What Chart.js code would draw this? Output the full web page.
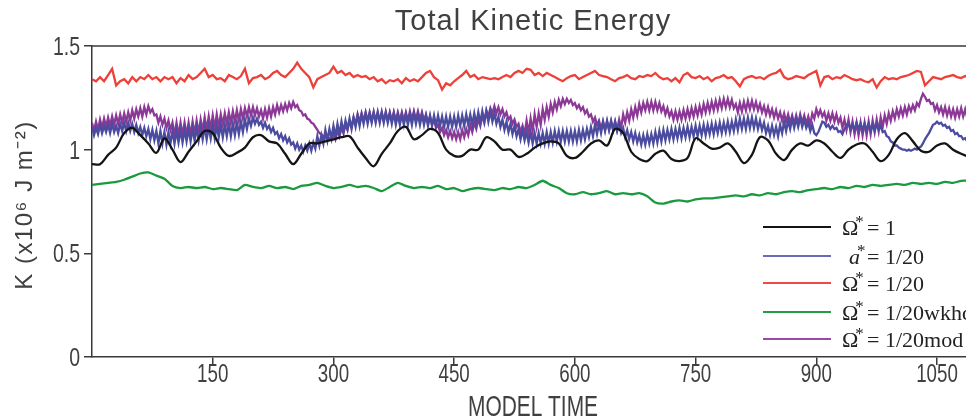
<!DOCTYPE html>
<html>
<head>
<meta charset="utf-8">
<script src="https://cdn.jsdelivr.net/npm/chart.js@4"></script>
<style>
  html, body { margin: 0; padding: 0; background: #fff; }
  #wrap { width: 966px; height: 419px; }
</style>
</head>
<body>
<div id="wrap"><canvas id="keChart" width="966" height="419"></canvas></div>
<script>
// Model time spacing of the sampled runs
const OSC_STEP = 2.5;   // runs with the fast oscillation (a*, mod)
const FINE_STEP = 5;    // noisy run
const COARSE_STEP = 10; // smooth runs

const xTicks = [150, 300, 450, 600, 750, 900, 1050];
const yTicks = [0, 0.5, 1, 1.5];

// K (x10^6 J m^-2), Omega* = 1, every 10 time units
const omega1 = [
  0.93, 0.93, 0.975, 1.01, 1.08, 1.105, 1.07, 1.03, 0.985, 1.055,
  1.0, 0.94, 0.99, 1.04, 1.09, 1.08, 1.01, 0.97, 0.985, 1.01,
  1.06, 1.07, 1.04, 1.03, 0.98, 0.93, 0.98, 1.03, 1.03, 1.04,
  1.05, 1.06, 1.065, 1.01, 0.96, 0.92, 0.98, 1.03, 1.09, 1.11,
  1.05, 1.07, 1.10, 1.08, 1.0, 0.97, 0.97, 1.0, 1.0, 1.06,
  1.04, 1.0, 1.0, 0.965, 0.98, 1.01, 1.03, 1.04, 1.03, 0.97,
  0.96, 0.99, 1.03, 1.045, 1.02, 1.1, 1.08, 0.99, 0.955, 0.945,
  0.98, 0.995, 0.955, 0.945, 0.96, 1.055, 1.03, 1.005, 1.01, 1.03,
  0.99, 0.935, 0.975, 1.06, 1.045, 0.98, 0.95, 1.0, 1.03, 1.02,
  1.045, 1.03, 0.99, 0.96, 1.0, 1.025, 1.03, 0.99, 0.945, 0.975,
  1.05, 1.08, 1.04, 0.995, 0.99, 1.02, 1.03, 1.0, 0.98, 0.965
];

// a* = 1/20, every 2.5 time units (one row = 100 time units)
const a20 = [
  1.11, 1.07, 1.105, 1.075, 1.12, 1.08, 1.115, 1.085, 1.12, 1.08, 1.125, 1.085, 1.115, 1.08, 1.125, 1.09, 1.13, 1.09, 1.13, 1.09,
  1.125, 1.085, 1.12, 1.08, 1.11, 1.07, 1.105, 1.065, 1.10, 1.05, 1.095, 1.045, 1.09, 1.03, 1.09, 1.03, 1.085, 1.025, 1.085, 1.03,
  1.09, 1.03, 1.09, 1.035, 1.095, 1.035, 1.095, 1.04, 1.10, 1.04, 1.10, 1.045, 1.105, 1.045, 1.105, 1.05, 1.11, 1.05, 1.11, 1.055,
  1.115, 1.055, 1.115, 1.06, 1.12, 1.06, 1.12, 1.065, 1.125, 1.065, 1.125, 1.07, 1.13, 1.075, 1.135, 1.085, 1.145, 1.10, 1.15, 1.115,
  1.155, 1.125, 1.15, 1.12, 1.135, 1.105, 1.13, 1.10, 1.115, 1.085, 1.105, 1.075, 1.085, 1.055, 1.075, 1.045, 1.065, 1.035, 1.055, 1.025,
  1.035, 1.005, 1.03, 1.0, 1.02, 0.99, 1.02, 0.995, 1.03, 0.995, 1.035, 1.005, 1.065, 1.02, 1.07, 1.03, 1.095, 1.045, 1.10, 1.055,
  1.115, 1.065, 1.125, 1.075, 1.135, 1.085, 1.14, 1.10, 1.15, 1.10, 1.155, 1.11, 1.165, 1.115, 1.17, 1.125, 1.175, 1.125, 1.175, 1.13,
  1.18, 1.13, 1.18, 1.13, 1.18, 1.13, 1.18, 1.13, 1.175, 1.125, 1.175, 1.12, 1.17, 1.12, 1.17, 1.12, 1.17, 1.12, 1.17, 1.12,
  1.175, 1.125, 1.17, 1.12, 1.17, 1.12, 1.165, 1.115, 1.165, 1.115, 1.165, 1.115, 1.165, 1.115, 1.16, 1.11, 1.16, 1.11, 1.16, 1.11,
  1.16, 1.11, 1.165, 1.115, 1.165, 1.115, 1.17, 1.12, 1.17, 1.12, 1.175, 1.125, 1.18, 1.13, 1.185, 1.135, 1.185, 1.135, 1.185, 1.135,
  1.175, 1.125, 1.16, 1.11, 1.145, 1.095, 1.135, 1.085, 1.125, 1.075, 1.115, 1.065, 1.10, 1.05, 1.095, 1.045, 1.085, 1.035, 1.085, 1.03,
  1.08, 1.03, 1.08, 1.03, 1.08, 1.03, 1.085, 1.03, 1.085, 1.035, 1.09, 1.04, 1.09, 1.04, 1.09, 1.04, 1.09, 1.04, 1.09, 1.04,
  1.09, 1.04, 1.095, 1.045, 1.095, 1.05, 1.10, 1.06, 1.11, 1.065, 1.12, 1.075, 1.125, 1.08, 1.135, 1.09, 1.14, 1.095, 1.14, 1.095,
  1.135, 1.09, 1.125, 1.08, 1.105, 1.06, 1.095, 1.05, 1.085, 1.04, 1.08, 1.035, 1.07, 1.025, 1.07, 1.025, 1.075, 1.03, 1.075, 1.03,
  1.085, 1.035, 1.09, 1.04, 1.095, 1.045, 1.095, 1.05, 1.10, 1.05, 1.10, 1.055, 1.105, 1.055, 1.105, 1.06, 1.11, 1.06, 1.11, 1.065,
  1.115, 1.065, 1.115, 1.07, 1.12, 1.07, 1.12, 1.075, 1.125, 1.075, 1.125, 1.08, 1.13, 1.08, 1.13, 1.085, 1.135, 1.085, 1.135, 1.09,
  1.145, 1.095, 1.15, 1.10, 1.15, 1.10, 1.155, 1.105, 1.155, 1.105, 1.15, 1.10, 1.14, 1.095, 1.13, 1.08, 1.115, 1.07, 1.115, 1.07,
  1.11, 1.065, 1.12, 1.08, 1.135, 1.09, 1.14, 1.10, 1.15, 1.105, 1.15, 1.11, 1.155, 1.11, 1.145, 1.105, 1.13, 1.09, 1.12, 1.08,
  1.07, 1.085, 1.11, 1.135, 1.13, 1.11, 1.12, 1.10, 1.115, 1.10, 1.105, 1.085, 1.09, 1.075, 1.10, 1.115, 1.125, 1.10, 1.12, 1.095,
  1.13, 1.10, 1.125, 1.095, 1.125, 1.095, 1.125, 1.09, 1.12, 1.09, 1.125, 1.095, 1.115, 1.085, 1.09, 1.065, 1.06, 1.04, 1.035, 1.02,
  1.02, 1.01, 1.005, 1.0, 1.0, 0.995, 1.0, 0.995, 1.0, 1.005, 1.0, 1.01, 1.015, 1.03, 1.05, 1.065, 1.08, 1.10, 1.12, 1.125,
  1.135, 1.125, 1.13, 1.115, 1.12, 1.105, 1.11, 1.09, 1.095, 1.075, 1.08, 1.065, 1.065, 1.05, 1.055, 1.04, 1.045
];

// Omega* = 1/20, every 5 time units
const omega20 = [
  1.34, 1.33, 1.35, 1.33, 1.36, 1.39, 1.31, 1.33, 1.34, 1.32, 1.35, 1.33, 1.35, 1.34, 1.36, 1.34, 1.35, 1.33, 1.35, 1.34,
  1.35, 1.32, 1.345, 1.33, 1.36, 1.34, 1.35, 1.37, 1.39, 1.35, 1.36, 1.34, 1.345, 1.33, 1.36, 1.35, 1.34, 1.355, 1.39, 1.32,
  1.345, 1.35, 1.36, 1.34, 1.35, 1.37, 1.38, 1.36, 1.35, 1.37, 1.39, 1.42, 1.39, 1.37, 1.35, 1.30, 1.34, 1.35, 1.36, 1.37,
  1.40, 1.37, 1.38, 1.36, 1.37, 1.35, 1.36, 1.35, 1.355, 1.34, 1.35, 1.33, 1.34, 1.32, 1.335, 1.33, 1.34, 1.32, 1.345, 1.33,
  1.34, 1.33, 1.35, 1.37, 1.38, 1.35, 1.335, 1.29, 1.32, 1.31, 1.33, 1.345, 1.36, 1.38, 1.35, 1.36, 1.34, 1.35, 1.345, 1.34,
  1.345, 1.34, 1.35, 1.36, 1.35, 1.37, 1.38, 1.37, 1.39, 1.385, 1.36, 1.37, 1.355, 1.37, 1.36, 1.35, 1.34, 1.33, 1.345, 1.355,
  1.36, 1.34, 1.35, 1.36, 1.37, 1.38, 1.36, 1.355, 1.35, 1.34, 1.33, 1.345, 1.35, 1.36, 1.345, 1.34, 1.355, 1.35, 1.36, 1.355,
  1.37, 1.35, 1.34, 1.345, 1.33, 1.345, 1.325, 1.36, 1.37, 1.35, 1.345, 1.355, 1.34, 1.35, 1.33, 1.345, 1.35, 1.36, 1.345, 1.35,
  1.33, 1.305, 1.34, 1.35, 1.355, 1.345, 1.35, 1.34, 1.355, 1.365, 1.37, 1.385, 1.35, 1.34, 1.345, 1.355, 1.35, 1.345, 1.36, 1.37,
  1.38, 1.31, 1.35, 1.355, 1.34, 1.35, 1.345, 1.36, 1.35, 1.34, 1.335, 1.34, 1.33, 1.325, 1.34, 1.30, 1.33, 1.35, 1.34, 1.345,
  1.34, 1.35, 1.355, 1.36, 1.37, 1.38, 1.375, 1.31, 1.33, 1.35, 1.345, 1.34, 1.35, 1.355, 1.36, 1.35, 1.345, 1.355, 1.35
];

// Omega* = 1/20wkhd, every 10 time units
const omega20wkhd = [
  0.83, 0.835, 0.84, 0.845, 0.855, 0.87, 0.885, 0.89, 0.875, 0.86,
  0.825, 0.815, 0.82, 0.815, 0.82, 0.81, 0.815, 0.81, 0.805, 0.83,
  0.82, 0.815, 0.825, 0.815, 0.82, 0.81, 0.825, 0.83, 0.84, 0.825,
  0.815, 0.82, 0.83, 0.82, 0.825, 0.815, 0.80, 0.82, 0.84, 0.825,
  0.815, 0.82, 0.815, 0.825, 0.81, 0.815, 0.80, 0.81, 0.815, 0.81,
  0.805, 0.815, 0.81, 0.82, 0.815, 0.83, 0.85, 0.83, 0.815, 0.79,
  0.785, 0.795, 0.785, 0.79, 0.80, 0.785, 0.79, 0.785, 0.79, 0.775,
  0.745, 0.74, 0.75, 0.755, 0.75, 0.76, 0.765, 0.765, 0.77, 0.775,
  0.78, 0.775, 0.785, 0.78, 0.79, 0.785, 0.795, 0.80, 0.795, 0.805,
  0.81, 0.815, 0.81, 0.82, 0.815, 0.825, 0.82, 0.83, 0.825, 0.83,
  0.835, 0.83, 0.84, 0.835, 0.84, 0.835, 0.845, 0.84, 0.85, 0.85
];

// Omega* = 1/20mod, every 2.5 time units (one row = 100 time units)
const omega20mod = [
  1.13, 1.09, 1.135, 1.095, 1.145, 1.105, 1.15, 1.11, 1.155, 1.115, 1.16, 1.12, 1.165, 1.125, 1.17, 1.13, 1.175, 1.135, 1.18, 1.14,
  1.19, 1.15, 1.195, 1.16, 1.20, 1.16, 1.205, 1.17, 1.21, 1.18, 1.195, 1.165, 1.17, 1.13, 1.16, 1.12, 1.15, 1.105, 1.14, 1.095,
  1.13, 1.07, 1.13, 1.07, 1.13, 1.07, 1.13, 1.07, 1.13, 1.07, 1.135, 1.075, 1.14, 1.08, 1.145, 1.09, 1.155, 1.095, 1.16, 1.10,
  1.165, 1.105, 1.17, 1.11, 1.17, 1.12, 1.175, 1.125, 1.18, 1.13, 1.185, 1.135, 1.19, 1.14, 1.195, 1.15, 1.20, 1.16, 1.205, 1.165,
  1.205, 1.165, 1.20, 1.16, 1.19, 1.15, 1.195, 1.155, 1.20, 1.16, 1.205, 1.17, 1.215, 1.18, 1.215, 1.185, 1.22, 1.19, 1.225, 1.20,
  1.23, 1.205, 1.215, 1.19, 1.185, 1.165, 1.17, 1.15, 1.145, 1.13, 1.125, 1.11, 1.095, 1.08, 1.075, 1.065, 1.06, 1.045, 1.055, 1.045,
  1.075, 1.05, 1.09, 1.065, 1.105, 1.08, 1.12, 1.095, 1.14, 1.11, 1.155, 1.125, 1.17, 1.135, 1.175, 1.14, 1.18, 1.14, 1.18, 1.14,
  1.18, 1.14, 1.18, 1.14, 1.18, 1.14, 1.18, 1.14, 1.18, 1.14, 1.18, 1.14, 1.18, 1.14, 1.18, 1.14, 1.18, 1.14, 1.185, 1.145,
  1.185, 1.145, 1.185, 1.145, 1.18, 1.14, 1.17, 1.13, 1.16, 1.12, 1.145, 1.105, 1.12, 1.085, 1.105, 1.07, 1.095, 1.06, 1.09, 1.055,
  1.085, 1.05, 1.085, 1.05, 1.095, 1.06, 1.10, 1.07, 1.12, 1.085, 1.13, 1.10, 1.15, 1.115, 1.165, 1.13, 1.19, 1.16, 1.20, 1.175,
  1.21, 1.175, 1.205, 1.17, 1.195, 1.16, 1.18, 1.145, 1.16, 1.125, 1.145, 1.11, 1.125, 1.085, 1.115, 1.075, 1.14, 1.08, 1.15, 1.09,
  1.17, 1.11, 1.175, 1.12, 1.195, 1.145, 1.205, 1.16, 1.22, 1.18, 1.23, 1.195, 1.24, 1.21, 1.245, 1.22, 1.245, 1.225, 1.24, 1.215,
  1.225, 1.20, 1.215, 1.19, 1.205, 1.175, 1.19, 1.16, 1.17, 1.135, 1.155, 1.12, 1.14, 1.10, 1.135, 1.095, 1.135, 1.095, 1.135, 1.095,
  1.135, 1.095, 1.145, 1.105, 1.17, 1.13, 1.18, 1.14, 1.195, 1.155, 1.205, 1.165, 1.22, 1.18, 1.225, 1.19, 1.23, 1.19, 1.23, 1.19,
  1.23, 1.19, 1.225, 1.185, 1.21, 1.17, 1.20, 1.16, 1.185, 1.145, 1.185, 1.145, 1.185, 1.145, 1.19, 1.15, 1.195, 1.155, 1.20, 1.16,
  1.205, 1.165, 1.21, 1.17, 1.22, 1.18, 1.225, 1.185, 1.23, 1.19, 1.235, 1.195, 1.24, 1.20, 1.245, 1.205, 1.245, 1.205, 1.24, 1.20,
  1.22, 1.18, 1.225, 1.185, 1.23, 1.19, 1.235, 1.195, 1.235, 1.195, 1.23, 1.19, 1.22, 1.18, 1.21, 1.17, 1.205, 1.165, 1.195, 1.155,
  1.19, 1.15, 1.18, 1.14, 1.175, 1.135, 1.17, 1.13, 1.165, 1.125, 1.165, 1.125, 1.17, 1.13, 1.165, 1.125, 1.16, 1.12, 1.175, 1.15,
  1.195, 1.165, 1.19, 1.16, 1.18, 1.14, 1.175, 1.14, 1.175, 1.135, 1.17, 1.13, 1.155, 1.105, 1.145, 1.095, 1.145, 1.085, 1.135, 1.075,
  1.13, 1.07, 1.13, 1.07, 1.13, 1.07, 1.135, 1.075, 1.14, 1.085, 1.145, 1.09, 1.155, 1.11, 1.165, 1.125, 1.175, 1.14, 1.185, 1.15,
  1.195, 1.16, 1.20, 1.165, 1.205, 1.17, 1.21, 1.185, 1.215, 1.19, 1.225, 1.21, 1.245, 1.27, 1.255, 1.235, 1.24, 1.22, 1.225, 1.19,
  1.215, 1.18, 1.205, 1.17, 1.205, 1.165, 1.20, 1.16, 1.195, 1.155, 1.195, 1.16, 1.20, 1.16, 1.195, 1.155, 1.18
];

// Legend text: symbol, whether it is italic, and the rest of the label
const legendLabels = [
  { sym: 'Ω', italic: false, rest: '= 1' },
  { sym: 'a', italic: true,  rest: '= 1/20' },
  { sym: 'Ω', italic: false, rest: '= 1/20' },
  { sym: 'Ω', italic: false, rest: '= 1/20wkhd' },
  { sym: 'Ω', italic: false, rest: '= 1/20mod' }
];

const COLORS = ['#141414', '#4b4ba0', '#ec4038', '#1a9a3e', '#8c3896'];
const LEGEND_COLORS = ['#141414', '#6a6ab8', '#ef4a44', '#1f9e44', '#9a4aa6'];
const AXIS_COLOR = '#3a3a3a';
const LABEL_FONT = '"Liberation Sans", Arial, sans-serif';

const toPoints = (values, step) => values.map((v, i) => ({ x: i * step, y: v }));

const seriesList = [
  { data: toPoints(omega1, COARSE_STEP), tension: 0.35 },
  { data: toPoints(a20, OSC_STEP), tension: 0 },
  { data: toPoints(omega20, FINE_STEP), tension: 0 },
  { data: toPoints(omega20wkhd, COARSE_STEP), tension: 0.2 },
  { data: toPoints(omega20mod, OSC_STEP), tension: 0 }
];

// condensed text, to get close to the narrow plotting font of the original
function narrowText(ctx, text, x, y, sx, align) {
  ctx.save();
  ctx.translate(x, y);
  ctx.scale(sx, 1);
  ctx.textAlign = align;
  ctx.fillText(text, 0, 0);
  ctx.restore();
}

// Title, axis titles, tick labels, top frame line and the legend
const decorations = {
  id: 'decorations',
  afterDraw(chart) {
    const { ctx, chartArea: a, scales } = chart;
    ctx.save();

    ctx.strokeStyle = AXIS_COLOR;
    ctx.lineWidth = 1.5;
    ctx.beginPath();
    ctx.moveTo(a.left, a.top);
    ctx.lineTo(a.right, a.top);
    ctx.stroke();

    ctx.fillStyle = '#404040';
    ctx.textBaseline = 'alphabetic';

    ctx.font = '29px ' + LABEL_FONT;
    ctx.letterSpacing = '1px';
    ctx.textAlign = 'center';
    ctx.fillText('Total Kinetic Energy', 533, 30);
    ctx.letterSpacing = '0px';

    ctx.font = '29px ' + LABEL_FONT;
    narrowText(ctx, 'MODEL TIME', 533, 416, 0.72, 'center');

    ctx.font = '25px ' + LABEL_FONT;
    xTicks.forEach(v => narrowText(ctx, String(v), scales.x.getPixelForValue(v), 382, 0.75, 'center'));
    yTicks.forEach(v => narrowText(ctx, String(v), 80, scales.y.getPixelForValue(v) + 9, 0.78, 'right'));

    ctx.save();
    ctx.translate(32, 205);
    ctx.rotate(-Math.PI / 2);
    ctx.font = '24px ' + LABEL_FONT;
    ctx.letterSpacing = '1.5px';
    ctx.textAlign = 'center';
    ctx.fillText('K (x10⁶ J m⁻²)', 0, 0);
    ctx.restore();

    // legend
    const rowY = [227, 256, 283, 312, 339];
    legendLabels.forEach((lab, i) => {
      const y = rowY[i];
      ctx.strokeStyle = LEGEND_COLORS[i];
      ctx.lineWidth = 2.2;
      ctx.beginPath();
      ctx.moveTo(763, y);
      ctx.lineTo(831, y);
      ctx.stroke();

      const base = y + 8;
      const symX = lab.italic ? 849 : 842;
      ctx.fillStyle = '#222';
      ctx.textAlign = 'left';
      ctx.font = (lab.italic ? 'italic ' : '') + '22px "Liberation Serif", "Times New Roman", serif';
      ctx.fillText(lab.sym, symX, base);
      const symW = ctx.measureText(lab.sym).width;
      ctx.font = '17px "Liberation Serif", "Times New Roman", serif';
      ctx.fillText('*', symX + symW - 3, base - 8);
      ctx.font = '22px "Liberation Serif", "Times New Roman", serif';
      ctx.fillText(lab.rest, 867, base);
    });

    ctx.restore();
  }
};

new Chart(document.getElementById('keChart'), {
  type: 'line',
  data: {
    datasets: seriesList.map((s, i) => ({
      data: s.data,
      borderColor: COLORS[i],
      borderWidth: 2.3,
      pointRadius: 0,
      fill: false,
      tension: s.tension
    }))
  },
  options: {
    responsive: false,
    animation: false,
    layout: { padding: { top: 46, left: 0, right: 0, bottom: 0 } },
    plugins: {
      legend: { display: false },
      tooltip: { enabled: false },
      title: { display: false }
    },
    scales: {
      x: {
        type: 'linear',
        min: 0,
        max: 1086,
        afterBuildTicks: (scale) => { scale.ticks = xTicks.map(v => ({ value: v })); },
        afterFit: (scale) => { scale.height = 62; },
        ticks: { display: false },
        grid: { display: true, drawOnChartArea: false, drawTicks: true, tickLength: 8, color: AXIS_COLOR, lineWidth: 1.5 },
        border: { display: true, color: AXIS_COLOR, width: 1.5 }
      },
      y: {
        min: 0,
        max: 1.5,
        afterBuildTicks: (scale) => { scale.ticks = yTicks.map(v => ({ value: v })); },
        afterFit: (scale) => { scale.width = 92; },
        ticks: { display: false },
        grid: { display: true, drawOnChartArea: false, drawTicks: true, tickLength: 8, color: AXIS_COLOR, lineWidth: 1.5 },
        border: { display: true, color: AXIS_COLOR, width: 1.5 }
      }
    }
  },
  plugins: [decorations]
});
</script>
</body>
</html>
